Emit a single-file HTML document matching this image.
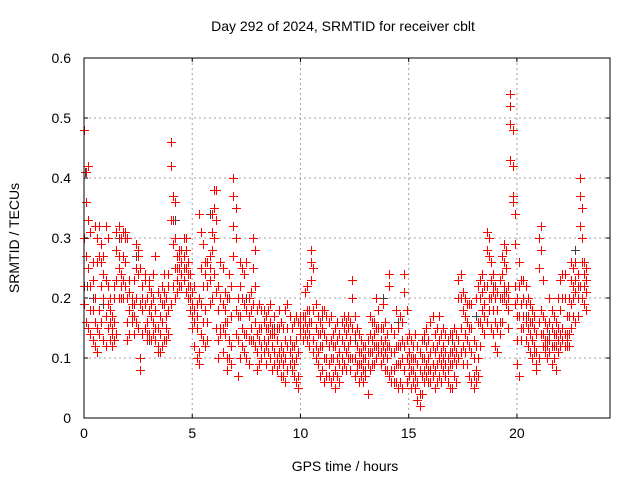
<!DOCTYPE html>
<html><head><meta charset="utf-8">
<style>
body{margin:0;background:#fff;}
svg text{font-family:"Liberation Sans",sans-serif;}
</style></head>
<body>
<svg id="chart" width="640" height="480" viewBox="0 0 640 480" xmlns="http://www.w3.org/2000/svg">
<rect x="0" y="0" width="640" height="480" fill="#fff"/>
<text x="343" y="31" font-size="14" text-anchor="middle">Day 292 of 2024, SRMTID for receiver cblt</text>
<text x="345" y="471" font-size="14" text-anchor="middle">GPS time / hours</text>
<text transform="translate(19,238) rotate(-90)" font-size="14" text-anchor="middle">SRMTID / TECUs</text>
<g id="grid"></g>
<g id="gray"></g>
<g id="red"></g>
<g id="axes"></g>
</svg>
<script>
const xTicks=[0,5,10,15,20];
const yTicks=[0,0.1,0.2,0.3,0.4,0.5,0.6];
const yTickLabels=["0","0.1","0.2","0.3","0.4","0.5","0.6"];
const stepHours=0.1;
const redVals=[
[0.48,0.19,0.3,0.22],[0.41,0.36,0.27,0.16],[0.42,0.33,0.25,0.15],[0.31,0.22,0.14,0.18],[0.26,0.18,0.13,0.23],[0.32,0.16,0.12,0.2],[0.3,0.26,0.15,0.11],[0.32,0.27,0.18,0.14],[0.29,0.22,0.16,0.26],[0.27,0.2,0.13,0.24],
[0.32,0.23,0.17,0.12],[0.3,0.19,0.15,0.22],[0.2,0.16,0.13,0.18],[0.17,0.14,0.12,0.15],[0.22,0.16,0.13,0.2],[0.28,0.23,0.14,0.31],[0.32,0.25,0.2,0.27],[0.3,0.24,0.2,0.22],[0.31,0.27,0.2,0.23],[0.3,0.26,0.22,0.31],
[0.3,0.2,0.16,0.13],[0.21,0.18,0.14,0.23],[0.2,0.17,0.16,0.19],[0.23,0.19,0.14,0.17],[0.29,0.25,0.2,0.16],[0.28,0.24,0.15,0.27],[0.25,0.19,0.1,0.08],[0.22,0.18,0.14,0.2],[0.23,0.19,0.15,0.24],[0.2,0.16,0.14,0.13],
[0.22,0.18,0.14,0.23],[0.21,0.17,0.13,0.19],[0.2,0.16,0.14,0.24],[0.18,0.15,0.13,0.27],[0.21,0.15,0.11,0.12],[0.2,0.17,0.11,0.14],[0.22,0.19,0.12,0.16],[0.24,0.19,0.13,0.21],[0.2,0.17,0.13,0.15],[0.22,0.18,0.14,0.24],
[0.46,0.42,0.33,0.19],[0.37,0.33,0.29,0.22],[0.36,0.3,0.25,0.2],[0.27,0.25,0.23,0.21],[0.27,0.25,0.22,0.28],[0.28,0.26,0.24,0.22],[0.3,0.27,0.25,0.23],[0.3,0.28,0.25,0.21],[0.26,0.24,0.22,0.2],[0.24,0.22,0.2,0.18],
[0.21,0.19,0.17,0.15],[0.22,0.18,0.16,0.12],[0.19,0.17,0.15,0.1],[0.34,0.2,0.11,0.09],[0.31,0.25,0.19,0.14],[0.29,0.22,0.16,0.13],[0.26,0.24,0.18,0.12],[0.26,0.22,0.16,0.13],[0.27,0.25,0.19,0.23],[0.34,0.31,0.28,0.2],
[0.38,0.35,0.3,0.24],[0.38,0.33,0.21,0.15],[0.22,0.18,0.13,0.1],[0.26,0.2,0.15,0.14],[0.25,0.19,0.15,0.11],[0.21,0.18,0.16,0.14],[0.2,0.16,0.1,0.08],[0.24,0.2,0.13,0.1],[0.22,0.17,0.12,0.09],[0.4,0.37,0.32,0.27],
[0.35,0.3,0.18,0.14],[0.2,0.17,0.13,0.07],[0.26,0.22,0.17,0.1],[0.25,0.2,0.15,0.12],[0.24,0.19,0.14,0.11],[0.26,0.18,0.14,0.1],[0.2,0.17,0.13,0.09],[0.21,0.18,0.15,0.13],[0.3,0.25,0.19,0.13],[0.28,0.22,0.16,0.12],
[0.18,0.14,0.11,0.08],[0.19,0.15,0.13,0.09],[0.18,0.15,0.12,0.1],[0.18,0.16,0.13,0.11],[0.17,0.15,0.12,0.09],[0.18,0.15,0.13,0.11],[0.19,0.16,0.14,0.1],[0.15,0.14,0.12,0.08],[0.17,0.14,0.11,0.09],[0.15,0.13,0.1,0.08],
[0.18,0.15,0.11,0.09],[0.16,0.12,0.1,0.07],[0.15,0.11,0.09,0.07],[0.18,0.13,0.1,0.06],[0.19,0.15,0.12,0.08],[0.17,0.13,0.11,0.09],[0.15,0.12,0.1,0.08],[0.16,0.12,0.09,0.07],[0.17,0.13,0.1,0.06],[0.16,0.11,0.07,0.05],
[0.17,0.15,0.14,0.16],[0.17,0.15,0.13,0.15],[0.21,0.17,0.14,0.16],[0.22,0.18,0.15,0.13],[0.18,0.16,0.14,0.12],[0.28,0.26,0.23,0.16],[0.25,0.18,0.13,0.11],[0.19,0.15,0.12,0.1],[0.17,0.14,0.11,0.09],[0.16,0.14,0.12,0.07],
[0.18,0.15,0.12,0.08],[0.18,0.14,0.1,0.06],[0.17,0.13,0.1,0.07],[0.16,0.12,0.09,0.07],[0.17,0.13,0.1,0.06],[0.14,0.12,0.1,0.07],[0.15,0.12,0.08,0.05],[0.16,0.13,0.1,0.07],[0.14,0.11,0.09,0.06],[0.16,0.13,0.1,0.08],
[0.17,0.15,0.12,0.09],[0.16,0.14,0.11,0.08],[0.17,0.15,0.12,0.1],[0.16,0.13,0.1,0.08],[0.23,0.2,0.15,0.1],[0.17,0.14,0.1,0.07],[0.15,0.12,0.09,0.08],[0.14,0.11,0.09,0.06],[0.13,0.11,0.09,0.07],[0.12,0.1,0.08,0.06],
[0.12,0.1,0.08,0.07],[0.13,0.11,0.09,0.04],[0.17,0.14,0.11,0.08],[0.16,0.13,0.11,0.09],[0.16,0.14,0.12,0.09],[0.2,0.15,0.12,0.1],[0.18,0.15,0.12,0.11],[0.15,0.13,0.11,0.09],[0.19,0.15,0.12,0.1],[0.16,0.13,0.11,0.08],
[0.14,0.12,0.1,0.08],[0.24,0.22,0.12,0.07],[0.15,0.11,0.08,0.06],[0.14,0.11,0.08,0.06],[0.18,0.12,0.09,0.06],[0.15,0.12,0.09,0.05],[0.17,0.12,0.09,0.06],[0.16,0.13,0.1,0.05],[0.24,0.21,0.12,0.08],[0.18,0.13,0.1,0.06],
[0.14,0.11,0.09,0.07],[0.13,0.1,0.08,0.05],[0.12,0.1,0.08,0.06],[0.14,0.1,0.07,0.05],[0.12,0.09,0.06,0.03],[0.11,0.08,0.04,0.02],[0.13,0.1,0.07,0.04],[0.14,0.1,0.08,0.06],[0.15,0.12,0.09,0.07],[0.13,0.1,0.08,0.06],
[0.16,0.11,0.08,0.06],[0.17,0.12,0.09,0.07],[0.14,0.11,0.08,0.05],[0.15,0.12,0.09,0.06],[0.17,0.13,0.1,0.07],[0.14,0.11,0.09,0.06],[0.15,0.12,0.1,0.08],[0.14,0.11,0.09,0.07],[0.13,0.1,0.08,0.06],[0.14,0.11,0.09,0.05],
[0.14,0.11,0.09,0.05],[0.15,0.12,0.1,0.07],[0.14,0.11,0.09,0.06],[0.23,0.2,0.13,0.1],[0.24,0.2,0.15,0.11],[0.21,0.18,0.12,0.09],[0.2,0.17,0.14,0.11],[0.19,0.16,0.13,0.09],[0.19,0.15,0.12,0.07],[0.19,0.15,0.11,0.06],
[0.13,0.1,0.07,0.05],[0.2,0.12,0.08,0.06],[0.22,0.16,0.1,0.07],[0.23,0.2,0.16,0.12],[0.24,0.21,0.18,0.15],[0.22,0.19,0.17,0.14],[0.31,0.28,0.22,0.16],[0.3,0.27,0.2,0.18],[0.26,0.23,0.2,0.15],[0.24,0.21,0.18,0.14],
[0.22,0.2,0.16,0.12],[0.21,0.18,0.15,0.11],[0.23,0.2,0.16,0.14],[0.27,0.24,0.2,0.16],[0.29,0.26,0.22,0.2],[0.28,0.25,0.21,0.19],[0.22,0.2,0.18,0.15],[0.54,0.52,0.49,0.43],[0.48,0.42,0.37,0.36],[0.34,0.29,0.22,0.19],
[0.2,0.17,0.13,0.09],[0.26,0.22,0.17,0.07],[0.23,0.19,0.15,0.13],[0.23,0.2,0.17,0.15],[0.22,0.19,0.16,0.13],[0.2,0.17,0.15,0.12],[0.19,0.16,0.14,0.11],[0.18,0.16,0.13,0.1],[0.17,0.15,0.12,0.11],[0.14,0.11,0.09,0.08],
[0.3,0.25,0.16,0.1],[0.32,0.28,0.18,0.14],[0.23,0.17,0.14,0.12],[0.16,0.13,0.12,0.11],[0.15,0.13,0.12,0.1],[0.2,0.16,0.13,0.11],[0.18,0.15,0.12,0.09],[0.17,0.14,0.12,0.1],[0.16,0.14,0.12,0.08],[0.2,0.15,0.13,0.11],
[0.23,0.18,0.14,0.12],[0.24,0.2,0.15,0.13],[0.24,0.2,0.14,0.12],[0.17,0.14,0.13,0.12],[0.2,0.17,0.14,0.12],[0.26,0.23,0.19,0.15],[0.25,0.22,0.2,0.17],[0.26,0.23,0.21,0.16],[0.24,0.22,0.2,0.17],[0.4,0.37,0.32,0.22],
[0.35,0.3,0.26,0.2],[0.26,0.24,0.22,0.19],[0.25,0.23,0.21,0.18]
];
const grayVals=[
[0.0,0.48],[0.05,0.41],[0.1,0.36],[0.15,0.22],[0.4,0.2],[0.9,0.19],[1.6,0.3],[2.4,0.27],[3.0,0.13],[4.0,0.46],
[4.2,0.33],[4.6,0.25],[5.3,0.2],[5.8,0.34],[6.5,0.16],[7.5,0.2],[8.8,0.15],[10.2,0.14],[11.0,0.17],[12.5,0.13],
[13.8,0.2],[14.5,0.16],[15.7,0.13],[17.0,0.13],[18.1,0.17],[18.9,0.22],[19.4,0.21],[20.4,0.17],[21.5,0.14],[22.7,0.28]
];
const X0=84,X1=610,Y0=418,Y1=58,XMAX=24.3,YMAX=0.6;
const xs=t=>X0+(X1-X0)*t/XMAX;
const ys=v=>Y0-(Y0-Y1)*v/YMAX;
const NS="http://www.w3.org/2000/svg";
function mk(tag,attrs,parent){const e=document.createElementNS(NS,tag);for(const k in attrs)e.setAttribute(k,attrs[k]);parent.appendChild(e);return e;}
const grid=document.getElementById('grid'),axes=document.getElementById('axes');
xTicks.forEach(t=>{
  if(t>0){const g=mk('line',{x1:xs(t),x2:xs(t),y1:Y1,y2:Y0,stroke:'#a0a0a0','stroke-dasharray':'2,3'},grid);
  
  }
  const tk=mk('path',{d:`M${xs(t)} ${Y0}v-4M${xs(t)} ${Y1}v4`,stroke:'#000'},axes);
  
  
  const lb=mk('text',{x:xs(t),y:Y0+20,'font-size':14,'text-anchor':'middle'},axes);lb.textContent=String(t);
  
  
});
yTicks.forEach((v,i)=>{
  if(v>0&&v<YMAX){const g=mk('line',{x1:X0,x2:X1,y1:ys(v),y2:ys(v),stroke:'#a0a0a0','stroke-dasharray':'2,3'},grid);
  
  }
  const tk=mk('path',{d:`M${X0} ${ys(v)}h4M${X1} ${ys(v)}h-4`,stroke:'#000'},axes);
  
  
  const lb=mk('text',{x:X0-13,y:ys(v)+5,'font-size':14,'text-anchor':'end'},axes);lb.textContent=yTickLabels[i];
  
  
});
const fr=mk('rect',{x:X0,y:Y1,width:X1-X0,height:Y0-Y1,fill:'none',stroke:'#000'},axes);


function plus(x,y,col,parent){x=Math.round(x)+0.5;y=Math.round(y)+0.5;return mk('path',{d:`M${x-4.5} ${y}h9M${x} ${y-4.5}v9`,stroke:col,'stroke-width':1.3,fill:'none','shape-rendering':'crispEdges'},parent);}
const gG=document.getElementById('gray');
grayVals.forEach(p=>{const e=plus(xs(p[0]),ys(p[1]),'#404040',gG);
  
  });
const gR=document.getElementById('red');
redVals.forEach((vals,i)=>{const t=i*stepHours;vals.forEach(v=>{const e=plus(xs(t),ys(v),'#ff0000',gR);
  
  });});
</script>
</body></html>
